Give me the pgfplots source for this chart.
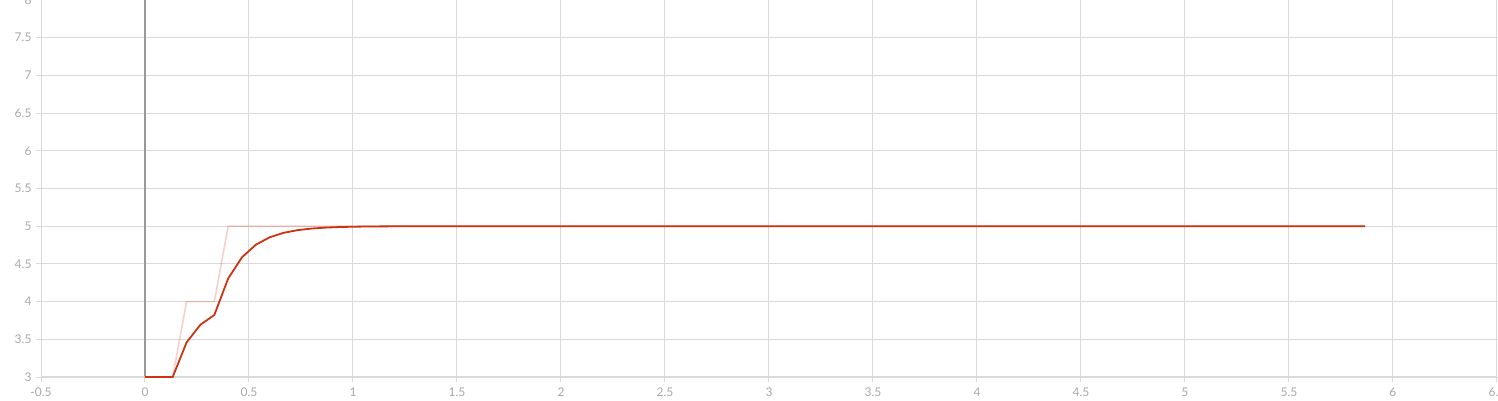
\documentclass[border=0pt]{standalone}
\usepackage{pgfplots}
\pgfplotsset{compat=1.18}
\usepackage{fontspec}
\setmainfont{Lato}
\definecolor{runred}{HTML}{CC3311}
\definecolor{gridc}{HTML}{DADADA}
\definecolor{labc}{HTML}{A8A8A8}
\definecolor{zeroc}{HTML}{9A9A9A}
\begin{document}
\begin{tikzpicture}
\useasboundingbox (0,0) rectangle (1498pt,400pt);
\clip (0,0) rectangle (1498pt,400pt);
\begin{axis}[
  at={(41pt,23pt)}, anchor=south west,
  scale only axis, width=1456pt, height=377pt,
  xmin=-0.5, xmax=6.5, ymin=3, ymax=8,
  xtick={-0.5,0,0.5,1,1.5,2,2.5,3,3.5,4,4.5,5,5.5,6,6.5},
  ytick={3,3.5,4,4.5,5,5.5,6,6.5,7,7.5,8},
  grid=major,
  major grid style={draw=gridc, line width=1pt},
  axis line style={draw=none},
  tick align=outside,
  major tick length=5pt,
  tick style={draw=gridc, line width=1pt},
  ticklabel style={font=\fontsize{12}{14}\selectfont, text=labc},
  xticklabel style={yshift=-2pt},
  yticklabel style={xshift=-1pt},
  /pgf/number format/assume math mode=true,
  /pgf/number format/fixed,
  clip=true,
]
\addplot[draw=zeroc, line width=1.3pt, forget plot] coordinates {(0,3) (0,8)};
\draw[gridc, line width=1.2pt] (axis cs:-0.5,3) -- (axis cs:6.5,3);
\addplot[draw=runred, draw opacity=0.22, line width=1.6pt] coordinates {
(0,3) (0.0667,3) (0.1333,3) (0.2,4) (0.2667,4) (0.3333,4) (0.4,5) (5.8667,5)
};
\addplot[draw=runred, line width=1.8pt, line join=round] coordinates {
(0,3) (0.0667,3) (0.1333,3) (0.2,3.4596) (0.2667,3.6939) (0.3333,3.8224)
(0.4,4.3070) (0.4667,4.5889) (0.5333,4.7550) (0.6,4.8536) (0.6667,4.9124)
(0.7333,4.9475) (0.8,4.9685) (0.8667,4.9811) (0.9333,4.9886) (1.0,4.9932)
(1.0667,4.9959) (1.1333,4.9975) (1.2,4.9985) (1.2667,4.9991) (1.3333,4.9995)
(1.4,4.9997) (1.4667,4.9998) (1.6,5) (5.8667,5)
};
\end{axis}
\end{tikzpicture}
\end{document}
